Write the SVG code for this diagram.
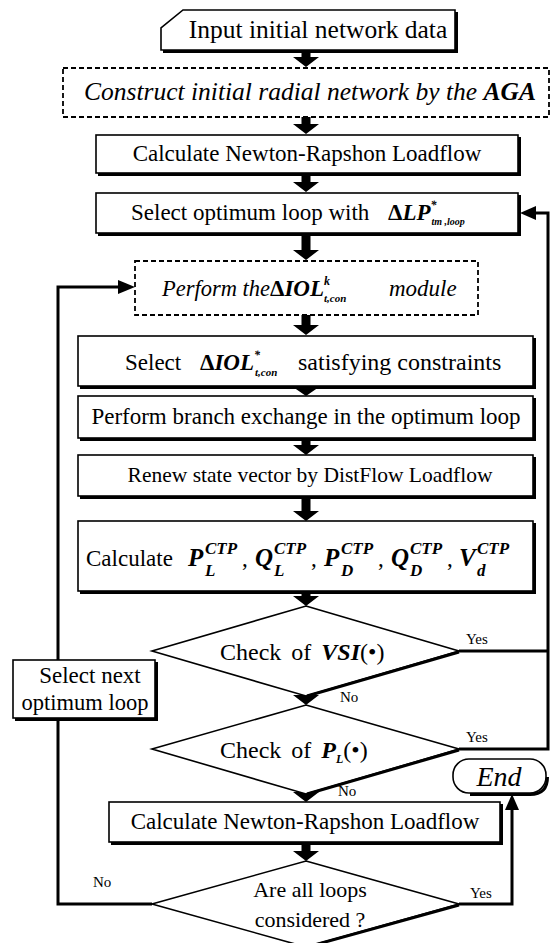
<svg xmlns="http://www.w3.org/2000/svg" width="553" height="943" viewBox="0 0 553 943">
<style>
text{font-family:"Liberation Serif","Times New Roman",serif;fill:#000}
.t{font-size:23px}
.c{text-anchor:middle}
.i{font-style:italic}
.b{font-weight:bold}
.bi{font-weight:bold;font-style:italic}
.m{font-weight:bold;font-style:italic;font-size:25px}
.s{font-weight:bold;font-style:italic;font-size:17px}
.lab{font-size:15px}
.box{fill:#fff;stroke:#000;stroke-width:1.6}
.dash{fill:#fff;stroke:#000;stroke-width:1.8;stroke-dasharray:5 3}
.sh{fill:none;stroke:#000;stroke-width:3}
.ln{fill:none;stroke:#000;stroke-width:3}
.ar{fill:#000;stroke:none}
</style>
<rect width="553" height="943" fill="#fff"/>

<g id="connectors">
  <path class="ar" d="M301.5,50 H310.5 V57 H319 L306,67 L293,57 H301.5 Z"/>
  <path class="ar" d="M301.5,117 H310.5 V124 H319 L306,134 L293,124 H301.5 Z"/>
  <path class="ar" d="M301.5,173 H310.5 V182 H319 L306,192 L293,182 H301.5 Z"/>
  <path class="ar" d="M301.5,233 H310.5 V250 H319 L306,260 L293,250 H301.5 Z"/>
  <path class="ar" d="M301.5,315 H310.5 V325 H319 L306,335 L293,325 H301.5 Z"/>
  <path class="ar" d="M301.5,386 H310.5 V387 H319 L306,396 L293,387 H301.5 Z"/>
  <path class="ar" d="M301.5,438 H310.5 V445 H319 L306,455 L293,445 H301.5 Z"/>
  <path class="ar" d="M301.5,496 H310.5 V511 H319 L306,521 L293,511 H301.5 Z"/>
  <path class="ar" d="M301.5,591 H310.5 V596 H319 L306,606 L293,596 H301.5 Z"/>
  <path class="ar" d="M301.5,690 H310.5 V695 H319 L306,705 L293,695 H301.5 Z"/>
  <path class="ar" d="M301.5,789 H310.5 V792 H319 L306,802 L293,792 H301.5 Z"/>
  <path class="ar" d="M301.5,842 H310.5 V851 H319 L306,861 L293,851 H301.5 Z"/>
  <path class="ln" d="M459,651 H548"/>
  <path class="ln" d="M459,749 H548 V213 H533"/>
  <path class="ar" d="M520,213 L536,206 L536,220 Z"/>
  <path class="ln" d="M459,904 H512 V808"/>
  <path class="ar" d="M512,794 L505,810 L519,810 Z"/>
  <path class="ln" d="M152,904 H58 V718"/>
  <path class="ln" d="M58,660 V287 H120"/>
  <path class="ar" d="M135,287 L118,280 L118,294 Z"/>
  <text class="lab" x="466" y="644">Yes</text>
  <text class="lab" x="466" y="742">Yes</text>
  <text class="lab" x="470" y="898">Yes</text>
  <text class="lab" x="340" y="702">No</text>
  <text class="lab" x="338" y="796">No</text>
  <text class="lab" x="93" y="887">No</text>
</g>

<g id="input">
  <polygon class="box" points="183,10 455,10 455,50 161,50 161,28"/>
  <path class="sh" d="M163,51.5 H456.5 V12"/>
  <text class="c" x="318" y="38" font-size="25.5">Input initial network data</text>
</g>

<g id="construct">
  <rect class="dash" x="63" y="68" width="486" height="49"/>
  <text class="c i" x="310" y="100" font-size="25.5">Construct initial radial network by the <tspan class="b">AGA</tspan></text>
</g>

<g id="nr1">
  <rect class="box" x="96" y="135" width="422" height="38"/>
  <path class="sh" d="M98,174.5 H519.5 V137"/>
  <text class="t c" x="307" y="161">Calculate Newton-Rapshon Loadflow</text>
</g>

<g id="selopt">
  <rect class="box" x="96" y="193" width="422" height="40"/>
  <path class="sh" d="M98,234.5 H519.5 V195"/>
  <text class="t" x="131" y="220">Select optimum loop with</text>
  <text class="t" x="388" y="220"><tspan class="b">Δ</tspan><tspan class="bi">LP</tspan><tspan class="bi" font-size="12" dy="-11">*</tspan><tspan class="bi" font-size="10" dx="-5" dy="16">tm ,loop</tspan></text>
</g>

<g id="perform">
  <rect class="dash" x="135" y="261" width="343" height="54"/>
  <text class="i" x="162" y="296" font-size="22.5">Perform the</text>
  <text class="t" x="270" y="296"><tspan class="b">Δ</tspan><tspan class="bi">IOL</tspan><tspan class="bi" font-size="12" dy="-11">k</tspan><tspan class="bi" font-size="11" dx="-6" dy="17">t,con</tspan></text>
  <text class="t i" x="389" y="296">module</text>
</g>

<g id="selIOL">
  <rect class="box" x="78" y="336" width="455" height="50"/>
  <path class="sh" d="M80,387.5 H534.5 V338"/>
  <text class="t" x="125" y="370">Select</text>
  <text class="t" x="200" y="370"><tspan class="b">Δ</tspan><tspan class="bi">IOL</tspan><tspan class="bi" font-size="12" dy="-11">*</tspan><tspan class="bi" font-size="11" dx="-5" dy="17">t,con</tspan></text>
  <text x="298" y="370" font-size="24">satisfying constraints</text>
</g>

<g id="branch">
  <rect class="box" x="78" y="396" width="455" height="42"/>
  <path class="sh" d="M80,439.5 H534.5 V398"/>
  <text class="t c" x="306" y="424">Perform branch exchange in the optimum loop</text>
</g>

<g id="renew">
  <rect class="box" x="78" y="455" width="455" height="41"/>
  <path class="sh" d="M80,497.5 H534.5 V457"/>
  <text class="c" x="310" y="482" font-size="21.5">Renew state vector by DistFlow Loadflow</text>
</g>

<g id="ctp">
  <rect class="box" x="78" y="521" width="455" height="70"/>
  <path class="sh" d="M80,592.5 H534.5 V523"/>
  <text class="t" x="86" y="566">Calculate</text>
  <text class="m" x="188" y="566">P</text><text class="s" x="205" y="576">L</text><text class="s" x="205" y="554">CTP</text>
  <text class="t" x="242" y="566">,</text>
  <text class="m" x="255" y="566">Q</text><text class="s" x="274" y="576">L</text><text class="s" x="274" y="554">CTP</text>
  <text class="t" x="311" y="566">,</text>
  <text class="m" x="324" y="566">P</text><text class="s" x="341" y="576">D</text><text class="s" x="341" y="554">CTP</text>
  <text class="t" x="378" y="566">,</text>
  <text class="m" x="391" y="566">Q</text><text class="s" x="410" y="576">D</text><text class="s" x="410" y="554">CTP</text>
  <text class="t" x="447" y="566">,</text>
  <text class="m" x="459" y="566">V</text><text class="s" x="477" y="576">d</text><text class="s" x="477" y="554">CTP</text>
</g>

<g id="vsi">
  <polygon class="box" points="306,606 459,651 306,696 152,651"/>
  <path class="sh" d="M459,652 L307,696"/>
  <text x="220" y="660" font-size="24" word-spacing="4">Check of <tspan class="bi">VSI</tspan>(•)</text>
</g>

<g id="pl">
  <polygon class="box" points="306,705 459,749 306,794 152,749"/>
  <path class="sh" d="M459,750 L307,794"/>
  <text x="220" y="758" font-size="24" word-spacing="4">Check of <tspan class="bi">P</tspan><tspan class="bi" font-size="12" dy="5">L</tspan><tspan dy="-5" word-spacing="0">(•)</tspan></text>
</g>

<g id="end">
  <rect class="box" x="453" y="759" width="93" height="34" rx="16"/>
  <path class="sh" d="M470,794.5 H530 Q547.5,794.5 547.5,777"/>
  <text class="c i" x="499" y="786" font-size="28">End</text>
</g>

<g id="nr2">
  <rect class="box" x="109" y="802" width="391" height="40"/>
  <path class="sh" d="M111,843.5 H501.5 V804"/>
  <text class="t c" x="305" y="829">Calculate Newton-Rapshon Loadflow</text>
</g>

<g id="allloops">
  <polygon class="box" points="306,861 459,904 306,947 152,904"/>
  <path class="sh" d="M459,905 L307,947"/>
  <text class="c" x="310" y="897" font-size="22">Are all loops</text>
  <text class="c" x="310" y="927" font-size="22">considered ?</text>
</g>

<g id="selnext">
  <rect class="box" x="13" y="660" width="142" height="58"/>
  <path class="sh" d="M15,719.5 H156.5 V662"/>
  <text class="c" x="90" y="683" font-size="23">Select next</text>
  <text class="c" x="85" y="710" font-size="22.5">optimum loop</text>
</g>
</svg>
